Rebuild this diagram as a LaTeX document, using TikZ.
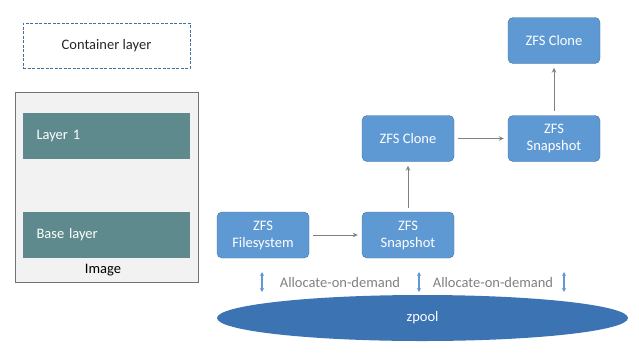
\documentclass[tikz,border=0pt]{standalone}
\usepackage{fontspec}
\setmainfont{Carlito}
\usetikzlibrary{arrows.meta,shapes.geometric}
\definecolor{zfsblue}{HTML}{5F99D3}
\definecolor{zfsedge}{HTML}{41719C}
\definecolor{layerteal}{HTML}{5E8A8E}
\definecolor{poolblue}{HTML}{3B73B3}
\definecolor{imggray}{HTML}{F2F2F2}
\newcommand{\boxfont}{\fontsize{14.5}{17}\selectfont}
\tikzset{
  zfsbox/.style={draw=zfsedge,fill=zfsblue,rounded corners=5pt,text=white,
    minimum width=92pt,minimum height=46pt,align=center,font=\boxfont},
  layerbox/.style={fill=layerteal,text=white,minimum width=167pt,
    minimum height=46pt,font=\boxfont,text width=140pt,align=left},
  allocarrow/.style={{Stealth[length=4pt,width=4pt]}-{Stealth[length=4pt,width=4pt]},
    draw=zfsblue,line width=1.2pt},
}
\begin{document}
\begin{tikzpicture}[x=1pt,y=-1pt]
    \useasboundingbox (0,0) rectangle (639,357);
    \node (img) [draw=gray!90!black,fill=imggray,minimum width=183pt,minimum height=190pt] at (106.5,187) {};
    \node (cont) [draw=zfsedge,dash pattern=on 3pt off 1.5pt,thick,minimum width=167pt,minimum height=45pt,font=\boxfont,text=black!85] at (106.5,45.5) {Container layer};
    \node (l1) [layerbox] at (106.5,136) {Layer 1};
    \node (l0) [layerbox] at (106.5,235) {Base layer};
    \node (imgl) [font=\boxfont] at (103,270) {Image};

    \node (1) [zfsbox] at (263,235) {ZFS\\Filesystem};
    \node (2) [zfsbox] at (408,235) {ZFS\\Snapshot};
    \node (3) [zfsbox] at (408,138.5) {ZFS Clone};
    \node (4) [zfsbox] at (554,138.5) {ZFS\\Snapshot};
    \node (5) [zfsbox] at (554,40.5) {ZFS Clone};

    \node (pool) [ellipse,fill=poolblue,text=white,minimum width=411pt,minimum height=46pt,font=\boxfont] at (422.5,318) {zpool};

    \coordinate (a1) at (262,272);
    \coordinate (b1) at (262,292);
    \coordinate (a2) at (419,272);
    \coordinate (b2) at (419,292);
    \coordinate (a3) at (564,272);
    \coordinate (b3) at (564,292);
    \node (t1) [text=gray,font=\boxfont] at (340,283) {Allocate-on-demand};
    \node (t2) [text=gray,font=\boxfont] at (493,283) {Allocate-on-demand};

    \path[every edge/.style={draw=gray,line width=1pt,-{Stealth[length=5pt,width=4.5pt]},shorten <=4pt,shorten >=4pt}]
	(1) edge (2)
	(2) edge (3)
	(3) edge (4)
	(4) edge (5);
    \path (a1) edge[allocarrow] (b1)
	(a2) edge[allocarrow] (b2)
	(a3) edge[allocarrow] (b3);
\end{tikzpicture}
\end{document}
